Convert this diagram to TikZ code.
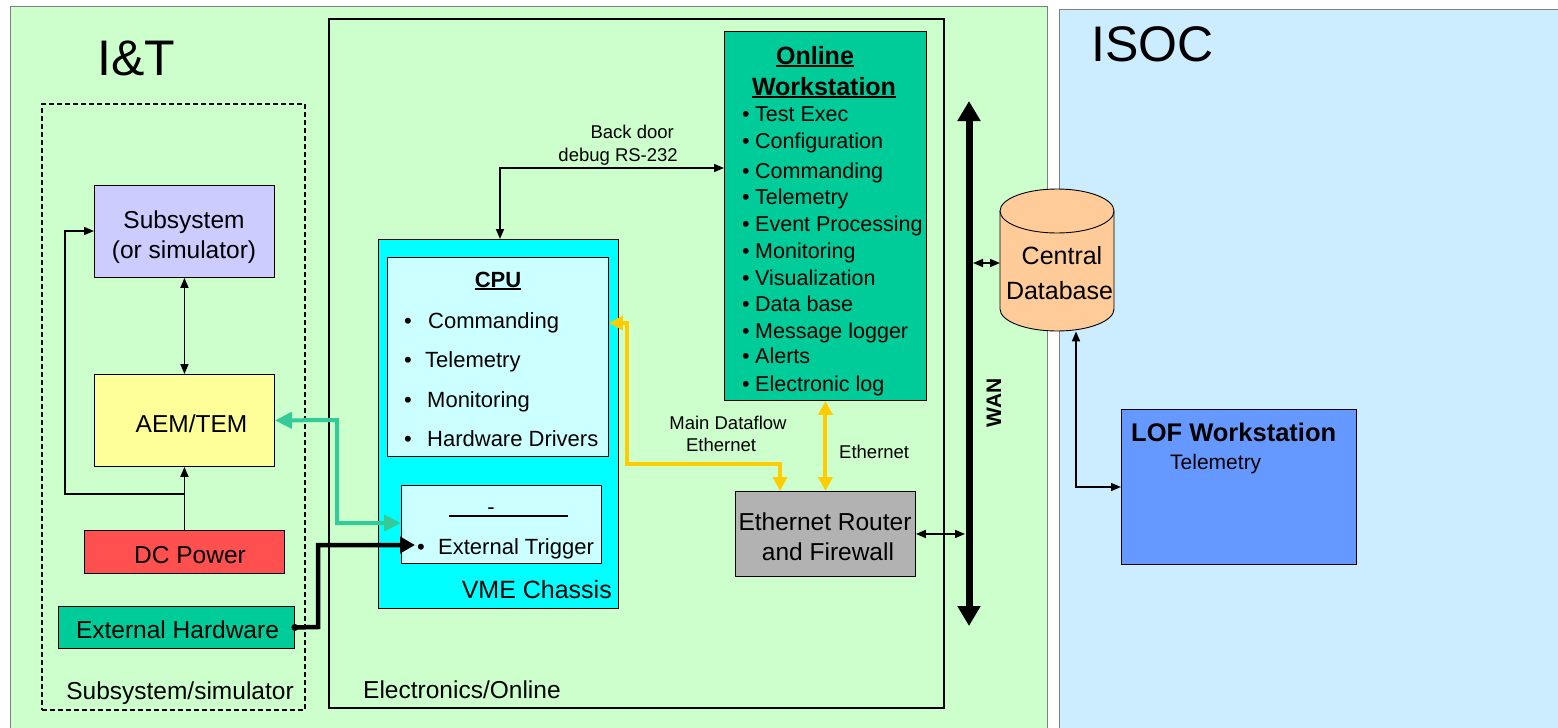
\documentclass[tikz,border=0pt]{standalone}
\usepackage{fontspec}
\setmainfont{Liberation Sans}
\usetikzlibrary{arrows.meta}
\definecolor{itgreen}{HTML}{CCFFCC}
\definecolor{isocblue}{HTML}{CCECFF}
\definecolor{subfill}{HTML}{CCCCFF}
\definecolor{aemfill}{HTML}{FFFF99}
\definecolor{dcfill}{HTML}{FF5050}
\definecolor{hwfill}{HTML}{00CC99}
\definecolor{vmefill}{HTML}{00FFFF}
\definecolor{cpufill}{HTML}{CCFFFF}
\definecolor{routerfill}{HTML}{B2B2B2}
\definecolor{dbfill}{HTML}{FFCC99}
\definecolor{loffill}{HTML}{6699FF}
\definecolor{ylw}{HTML}{FFCC00}
\definecolor{tealarr}{HTML}{33CC99}
\definecolor{panelborder}{HTML}{7F7F7F}
\newcommand\fsz[1]{\fontsize{#1}{#1}\selectfont}
\newcommand\myul[1]{\setbox0\hbox{#1}\rlap{\rule[-2.6pt]{\wd0}{1.8pt}}\box0}
\begin{document}
\begin{tikzpicture}[x=1pt,y=-1pt,
  box/.style={draw=black, line width=0.9pt, inner sep=0pt, anchor=north west},
  txt/.style={inner sep=0pt, anchor=base},
  ltxt/.style={inner sep=0pt, anchor=base west},
  rtxt/.style={inner sep=0pt, anchor=base east},
  thinarrow/.style={line width=1.6pt, -{Triangle[length=10pt,width=8pt]}},
  dblarrow/.style={line width=1.6pt, {Triangle[length=10pt,width=8pt]}-{Triangle[length=10pt,width=8pt]}},
  tarrow/.style={draw=tealarr, line width=4pt,
    {Triangle[length=17pt,width=16pt]}-{Triangle[length=17pt,width=16pt]}},
  yarrow/.style={draw=ylw, line width=4pt,
    {Triangle[length=14pt,width=14pt]}-{Triangle[length=14pt,width=14pt]}},
  karrow/.style={line width=4.5pt, -{Triangle[length=15pt,width=16pt]}},
  wanline/.style={line width=7pt, {Triangle[length=20pt,width=22pt]}-{Triangle[length=20pt,width=22pt]}},
]
\path[use as bounding box] (0,0) rectangle (1558,728);
\fill[white] (0,0) rectangle (1558,728);
\clip (0,0) rectangle (1558,728);

% panels
\node[box, draw=panelborder, line width=0.8pt, fill=itgreen, minimum width=1037, minimum height=740] (it) at (10,6) {};
\node[box, draw=panelborder, line width=0.8pt, fill=isocblue, minimum width=520, minimum height=740] (isoc) at (1059,9) {};
\node[ltxt, font=\fsz{50}] (itlabel) at (97,75) {I\&T};
\node[ltxt, font=\fsz{50}] (isoclabel) at (1091,61) {ISOC};

\node[box, line width=2pt, minimum width=615, minimum height=689] (elec) at (328,18) {};
\node[box, dashed, dash pattern=on 5pt off 3pt, line width=1.6pt, minimum width=263, minimum height=606] (subsim) at (41,103) {};
\node[ltxt, font=\fsz{24.5}] (eleclabel) at (363,698) {Electronics/Online};
\node[txt, font=\fsz{24.5}] (subsimlabel) at (180,699) {Subsystem/simulator};

% left column
\node[box, fill=subfill, minimum width=180, minimum height=92] (sub) at (94,185) {};
\node[txt, font=\fsz{24.5}] (subt1) at (184,228) {Subsystem};
\node[txt, font=\fsz{24.5}] (subt2) at (184,258) {(or simulator)};
\node[box, fill=aemfill, minimum width=180, minimum height=92] (aem) at (94,374) {};
\node[txt, font=\fsz{24.5}] (aemt) at (191.5,432) {AEM/TEM};
\node[box, fill=dcfill, minimum width=200, minimum height=43] (dc) at (84,530) {};
\node[txt, font=\fsz{24.5}] (dct) at (190,563) {DC Power};
\node[box, fill=hwfill, minimum width=236, minimum height=42] (exth) at (58,606) {};
\node[txt, font=\fsz{24.5}] (extht) at (177.5,638) {External Hardware};

% VME
\node[box, fill=vmefill, minimum width=240, minimum height=369] (vme) at (378,239) {};
\node[rtxt, font=\fsz{25}] (vmet) at (612,598) {VME Chassis};
\node[box, fill=cpufill, minimum width=221, minimum height=199] (cpu) at (387,257) {};
\node[txt, font=\bfseries\fsz{22}] (cput) at (498,287) {\myul{CPU}};
\foreach \t/\x/\y in {Commanding/428/328, Telemetry/425/367, Monitoring/427/407, Hardware Drivers/427/446}{
  \node[txt, font=\fsz{22}] at (408,\y) {\textbullet};
  \node[ltxt, font=\fsz{22}] at (\x,\y) {\t};
}
\node[box, fill=cpufill, minimum width=200, minimum height=78] (trig) at (401,485) {};
\node[txt, font=\fsz{22}] (trigdash) at (491,514) {-};
\coordinate (tl1) at (449,516);
\coordinate (tl2) at (568,516);
\draw[line width=1.8pt] (tl1) -- (tl2);
\node[txt, font=\fsz{22}] (trigbul) at (421,554) {\textbullet};
\node[ltxt, font=\fsz{22}] (trigt) at (438,554) {External Trigger};

% Online workstation
\node[box, fill=hwfill, minimum width=202, minimum height=369] (online) at (724,31) {};
\node[txt, font=\bfseries\fsz{25}] (ont1) at (815,64) {\myul{Online}};
\node[txt, font=\bfseries\fsz{25}] (ont2) at (824,95) {\myul{Workstation}};
\foreach \t/\y in {Test Exec/121, Configuration/148, Commanding/178, Telemetry/204, Event Processing/231, Monitoring/258, Visualization/285, Data base/311, Message logger/338, Alerts/363, Electronic log/391}{
  \node[txt, font=\fsz{21.5}] at (746,\y) {\textbullet};
  \node[ltxt, font=\fsz{21.5}] at (755,\y) {\t};
}

% router
\node[box, fill=routerfill, minimum width=180, minimum height=85] (router) at (735,491) {};
\node[txt, font=\fsz{24.5}] (rt1) at (825,530) {Ethernet Router};
\node[txt, font=\fsz{24.5}] (rt2) at (828,560) {and Firewall};

% WAN
\coordinate (want) at (969,101);
\coordinate (wanb) at (969,626);
\draw[wanline] (wanb) -- (want);
\node[font=\bfseries\fsz{21}, rotate=90, inner sep=0pt] (wanlabel) at (994,403) {WAN};

% Central database
\node[inner sep=0pt, anchor=north west, minimum width=114, minimum height=142] (db) at (1000,189) {};
\filldraw[fill=dbfill, draw=black, line width=0.9pt]
  (1000,211) -- (1000,309) arc[start angle=180, end angle=0, x radius=57, y radius=22]
  -- (1114,211) arc[start angle=0, end angle=-180, x radius=57, y radius=22] -- cycle;
\draw[line width=0.9pt] (1000,211) arc[start angle=180, end angle=0, x radius=57, y radius=22];
\node[txt, font=\fsz{25}] (dbt1) at (1062,264) {Central};
\node[txt, font=\fsz{25}] (dbt2) at (1059.5,299) {Database};

% LOF
\node[box, fill=loffill, minimum width=235, minimum height=155] (lof) at (1121,409) {};
\node[ltxt, font=\bfseries\fsz{25.5}] (loft) at (1131,441) {LOF Workstation};
\node[ltxt, font=\fsz{21}] (lofs) at (1170,469) {Telemetry};

% connectors left
\draw[dblarrow] (aem.north) -- (sub.south);
\draw[thinarrow] (dc.north) -- (aem.south);
\coordinate (lj) at (184,494);
\coordinate (lc) at (65,494);
\coordinate (lt) at (65,231);
\draw[thinarrow] (lj) -- (lc) -- (lt) -- (lt -| sub.west);

\coordinate (t1) at (337,420);
\coordinate (t2) at (337,523);
\draw[tarrow] (aem.east) -- (t1) -- (t2) -- (t2 -| trig.west);

\coordinate (k1) at (318,627);
\coordinate (k2) at (318,545);
\coordinate (k3) at (415,545);
\fill (exth.east) circle (3.5pt);
\draw[karrow] (exth.east) -- (k1) -- (k2) -- (k3);

% back door
\coordinate (bd) at (500,168);
\draw[dblarrow] (bd |- vme.north) -- (bd) -- (bd -| online.west);
\node[rtxt, font=\fsz{18.5}] (bdt1) at (674,138) {Back door};
\node[rtxt, font=\fsz{18.5}] (bdt2) at (678,161) {debug RS-232};

% yellow
\coordinate (y1) at (627,323);
\coordinate (y2) at (627,464);
\coordinate (y3) at (780,464);
\draw[yarrow] (y1 -| cpu.east) -- (y1) -- (y2) -- (y3) -- (y3 |- router.north);
\draw[yarrow] (online.south) -- (router.north);
\node[txt, font=\fsz{18.5}] (mdt1) at (728,429) {Main Dataflow};
\node[txt, font=\fsz{18.5}] (mdt2) at (721,451) {Ethernet};
\node[ltxt, font=\fsz{18.5}] (etht) at (839,458) {Ethernet};

% WAN links
\coordinate (rw) at (965,534);
\draw[dblarrow] (router.east) -- (router.east -| rw);
\coordinate (wd) at (973,263);
\draw[dblarrow] (wd) -- (wd -| db.west);
\coordinate (dl) at (1076,487);
\draw[dblarrow] (dl |- db.south) -- (dl) -- (dl -| lof.west);
\end{tikzpicture}
\end{document}
